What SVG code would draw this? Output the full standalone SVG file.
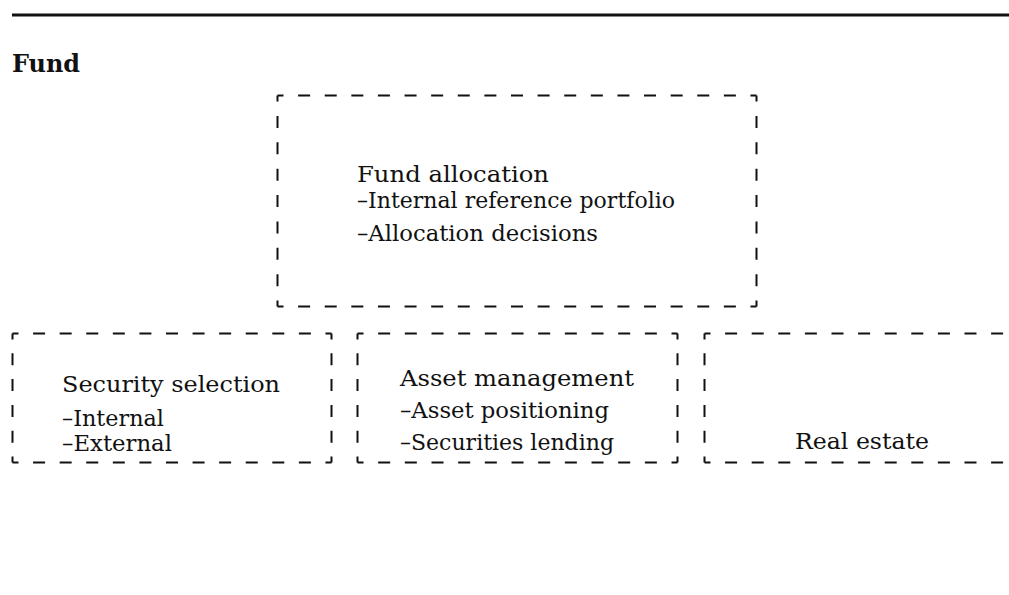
<svg xmlns="http://www.w3.org/2000/svg" width="1009" height="595" viewBox="0 0 1009 595">
<style>
.d{stroke:#111;stroke-width:2;fill:none;stroke-dashoffset:6}
.t{font-family:"DejaVu Serif","Liberation Serif",serif;font-size:23px;fill:#111}
.b{font-family:"DejaVu Serif","Liberation Serif",serif;font-size:25px;font-weight:bold;fill:#111}
</style>
<rect width="1009" height="595" fill="#fff"/>
<line x1="12" y1="15" x2="1009" y2="15" stroke="#111" stroke-width="3"/>
<text class="b" x="12" y="72" textLength="68" lengthAdjust="spacingAndGlyphs">Fund</text>
<g id="fund-allocation">
<line class="d" x1="277.5" y1="95.5" x2="756.5" y2="95.5" stroke-dasharray="12 14.61"/>
<line class="d" x1="277.5" y1="306.5" x2="756.5" y2="306.5" stroke-dasharray="12 14.61"/>
<line class="d" x1="277.5" y1="95.5" x2="277.5" y2="306.5" stroke-dasharray="12 14.375"/>
<line class="d" x1="756.5" y1="95.5" x2="756.5" y2="306.5" stroke-dasharray="12 14.375"/>
<text class="t" x="357" y="182" textLength="192" lengthAdjust="spacingAndGlyphs">Fund allocation</text>
<text class="t" x="357" y="208" textLength="318" lengthAdjust="spacingAndGlyphs">–Internal reference portfolio</text>
<text class="t" x="357" y="241" textLength="241" lengthAdjust="spacingAndGlyphs">–Allocation decisions</text>
</g>
<g id="security-selection">
<line class="d" x1="12.5" y1="333.5" x2="331.5" y2="333.5" stroke-dasharray="12 14.58"/>
<line class="d" x1="12.5" y1="462.5" x2="331.5" y2="462.5" stroke-dasharray="12 14.58"/>
<line class="d" x1="12.5" y1="333.5" x2="12.5" y2="462.5" stroke-dasharray="12 13.8"/>
<line class="d" x1="331.5" y1="333.5" x2="331.5" y2="462.5" stroke-dasharray="12 13.8"/>
<text class="t" x="62" y="392" textLength="218" lengthAdjust="spacingAndGlyphs">Security selection</text>
<text class="t" x="62" y="426" textLength="102" lengthAdjust="spacingAndGlyphs">–Internal</text>
<text class="t" x="62" y="451" textLength="110" lengthAdjust="spacingAndGlyphs">–External</text>
</g>
<g id="asset-management">
<line class="d" x1="357.5" y1="333.5" x2="677.5" y2="333.5" stroke-dasharray="12 14.67"/>
<line class="d" x1="357.5" y1="462.5" x2="677.5" y2="462.5" stroke-dasharray="12 14.67"/>
<line class="d" x1="357.5" y1="333.5" x2="357.5" y2="462.5" stroke-dasharray="12 13.8"/>
<line class="d" x1="677.5" y1="333.5" x2="677.5" y2="462.5" stroke-dasharray="12 13.8"/>
<text class="t" x="400" y="386" textLength="234" lengthAdjust="spacingAndGlyphs">Asset management</text>
<text class="t" x="400" y="418" textLength="209" lengthAdjust="spacingAndGlyphs">–Asset positioning</text>
<text class="t" x="400" y="450" textLength="214" lengthAdjust="spacingAndGlyphs">–Securities lending</text>
</g>
<g id="real-estate">
<line class="d" x1="704.5" y1="333.5" x2="1009" y2="333.5" stroke-dasharray="12 14.6"/>
<line class="d" x1="704.5" y1="462.5" x2="1009" y2="462.5" stroke-dasharray="12 14.6"/>
<line class="d" x1="704.5" y1="333.5" x2="704.5" y2="462.5" stroke-dasharray="12 13.8"/>
<text class="t" x="795" y="449" textLength="134" lengthAdjust="spacingAndGlyphs">Real estate</text>
</g>
<g id="connectors"></g>
</svg>
